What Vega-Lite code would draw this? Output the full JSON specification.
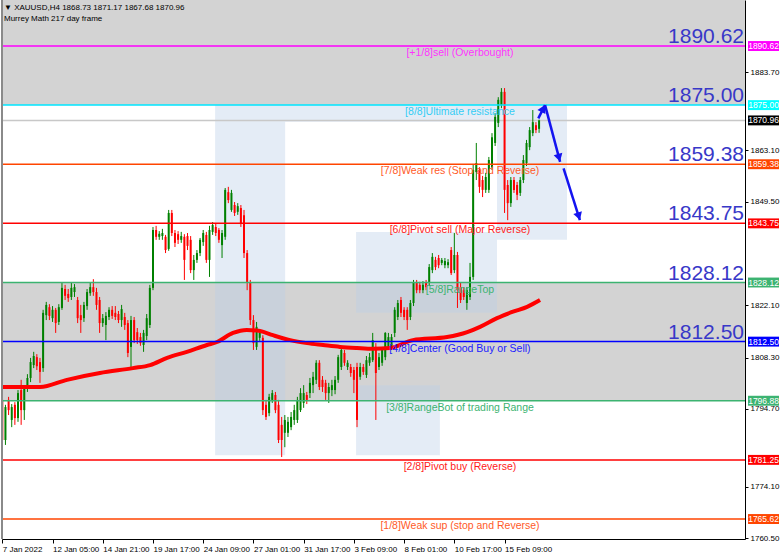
{
"$schema": "https://vega.github.io/schema/vega-lite/v6.json",
"width": 743, "height": 539,
"autosize": {"type": "none"},
"padding": {"left": 2, "top": 0, "right": 37, "bottom": 18},
"background": "white",
"config": {"view": {"stroke": null}, "font": "Liberation Sans"},
"datasets": {
"one": [{}],
"zones": [{"top": 1902.78, "bot": 1875.0}, {"top": 1828.12, "bot": 1796.88}],
"mark": [
{"x1": 67.8, "x2": 90.1, "y1": 1875.0, "y2": 1782.5},
{"x1": 90.1, "x2": 157.6, "y1": 1875.0, "y2": 1870.6},
{"x1": 157.6, "x2": 179.9, "y1": 1875.0, "y2": 1839.4},
{"x1": 112.7, "x2": 157.6, "y1": 1841.5, "y2": 1820.1},
{"x1": 112.7, "x2": 139.4, "y1": 1801.0, "y2": 1782.5}
],
"levels": [
{"lv": "+1/8", "v": 1890.62, "label": "[+1/8]sell (Overbought)"},
{"lv": "8/8", "v": 1875.00, "label": "[8/8]Ultimate resistance"},
{"lv": "7/8", "v": 1859.38, "label": "[7/8]Weak res (Stop and Reverse)"},
{"lv": "6/8", "v": 1843.75, "label": "[6/8]Pivot sell (Major Reverse)"},
{"lv": "5/8", "v": 1828.12, "label": "[5/8]RangeTop"},
{"lv": "4/8", "v": 1812.50, "label": "[4/8]Center (Good Buy or Sell)"},
{"lv": "3/8", "v": 1796.88, "label": "[3/8]RangeBot of trading Range"},
{"lv": "2/8", "v": 1781.25, "label": "[2/8]Pivot buy (Reverse)"},
{"lv": "1/8", "v": 1765.62, "label": "[1/8]Weak sup (stop and Reverse)"}
],
"tags": [
{"lv": "+1/8", "v": 1890.62}, {"lv": "8/8", "v": 1875.00}, {"lv": "now", "v": 1870.96},
{"lv": "7/8", "v": 1859.38}, {"lv": "6/8", "v": 1843.75}, {"lv": "5/8", "v": 1828.12},
{"lv": "4/8", "v": 1812.50}, {"lv": "3/8", "v": 1796.88}, {"lv": "2/8", "v": 1781.25},
{"lv": "1/8", "v": 1765.62}
],
"ma": [
{"i":0.2,"ma":1800.5},{"i":12,"ma":1800.5},{"i":20.6,"ma":1802.4},{"i":31.1,"ma":1804.2},{"i":41.6,"ma":1805.5},{"i":47.1,"ma":1806.3},{"i":52.5,"ma":1808.2},{"i":58.8,"ma":1809.8},{"i":65.2,"ma":1811.6},{"i":68.4,"ma":1812.4},{"i":73.5,"ma":1814.8},{"i":77.9,"ma":1815.6},{"i":82.1,"ma":1815.3},{"i":86.2,"ma":1814.2},{"i":91.7,"ma":1812.9},{"i":97.1,"ma":1812.1},{"i":102.2,"ma":1811.6},{"i":107.6,"ma":1811.1},{"i":113,"ma":1810.8},{"i":118.1,"ma":1810.6},{"i":123.5,"ma":1810.8},{"i":130.8,"ma":1812.9},{"i":141.7,"ma":1813.7},{"i":148.1,"ma":1815.0},{"i":152.2,"ma":1816.4},{"i":157.6,"ma":1818.7},{"i":162.7,"ma":1820.4},{"i":167.2,"ma":1821.7},{"i":171.3,"ma":1823.5}
],
"arrows": [
{"seg":1,"i":170.75,"p":1871.5},{"seg":1,"i":172.9,"p":1875.0},
{"seg":2,"i":172.9,"p":1875.0},{"seg":2,"i":177.7,"p":1860.0},
{"seg":3,"i":178.8,"p":1858.3},{"seg":3,"i":184.0,"p":1844.6}
],
"candles": [
{"i":0,"o":1797.1,"h":1797.6,"l":1781.7,"c":1786.5},
{"i":1,"o":1786.5,"h":1795.8,"l":1785.2,"c":1795.2},
{"i":2,"o":1797.1,"h":1797.9,"l":1793.1,"c":1794.4},
{"i":3,"o":1791.8,"h":1796.0,"l":1789.9,"c":1795.2},
{"i":4,"o":1795.8,"h":1796.5,"l":1790.5,"c":1792.3},
{"i":5,"o":1792.3,"h":1799.7,"l":1791.3,"c":1798.9},
{"i":6,"o":1799.7,"h":1802.4,"l":1790.5,"c":1794.4},
{"i":7,"o":1794.4,"h":1801.0,"l":1791.8,"c":1800.2},
{"i":8,"o":1800.2,"h":1803.9,"l":1799.2,"c":1802.9},
{"i":9,"o":1802.9,"h":1808.2,"l":1801.8,"c":1807.1},
{"i":10,"o":1806.3,"h":1809.8,"l":1805.5,"c":1808.7},
{"i":11,"o":1808.4,"h":1809.2,"l":1805.0,"c":1806.0},
{"i":12,"o":1807.1,"h":1808.2,"l":1801.6,"c":1804.5},
{"i":13,"o":1805.5,"h":1820.9,"l":1804.5,"c":1820.1},
{"i":14,"o":1819.5,"h":1823.0,"l":1818.2,"c":1822.2},
{"i":15,"o":1821.6,"h":1822.4,"l":1818.2,"c":1819.3},
{"i":16,"o":1818.7,"h":1821.9,"l":1817.7,"c":1820.9},
{"i":17,"o":1820.9,"h":1821.4,"l":1814.8,"c":1817.4},
{"i":18,"o":1817.7,"h":1822.4,"l":1816.9,"c":1821.6},
{"i":19,"o":1821.4,"h":1828.0,"l":1820.9,"c":1826.7},
{"i":20,"o":1826.4,"h":1827.5,"l":1823.5,"c":1824.6},
{"i":21,"o":1825.1,"h":1826.4,"l":1823.0,"c":1824.0},
{"i":22,"o":1824.3,"h":1828.0,"l":1823.5,"c":1826.7},
{"i":23,"o":1825.6,"h":1827.7,"l":1824.3,"c":1826.9},
{"i":24,"o":1823.5,"h":1824.3,"l":1817.4,"c":1818.7},
{"i":25,"o":1819.5,"h":1822.2,"l":1814.8,"c":1818.2},
{"i":26,"o":1818.7,"h":1823.0,"l":1817.7,"c":1822.2},
{"i":27,"o":1821.9,"h":1826.4,"l":1820.9,"c":1825.6},
{"i":28,"o":1825.3,"h":1828.0,"l":1824.6,"c":1826.9},
{"i":29,"o":1826.9,"h":1829.0,"l":1824.6,"c":1825.6},
{"i":30,"o":1825.6,"h":1826.7,"l":1820.9,"c":1822.2},
{"i":31,"o":1823.5,"h":1824.3,"l":1814.8,"c":1817.4},
{"i":32,"o":1817.4,"h":1819.8,"l":1816.4,"c":1818.7},
{"i":33,"o":1816.9,"h":1820.3,"l":1812.9,"c":1819.3},
{"i":34,"o":1819.0,"h":1821.6,"l":1818.2,"c":1820.9},
{"i":35,"o":1820.9,"h":1821.9,"l":1818.5,"c":1819.3},
{"i":36,"o":1820.1,"h":1821.9,"l":1818.2,"c":1819.0},
{"i":37,"o":1819.8,"h":1820.6,"l":1817.4,"c":1818.2},
{"i":38,"o":1818.2,"h":1822.2,"l":1816.4,"c":1821.1},
{"i":39,"o":1819.0,"h":1820.1,"l":1815.6,"c":1816.9},
{"i":40,"o":1817.4,"h":1818.2,"l":1808.4,"c":1809.5},
{"i":41,"o":1811.1,"h":1819.3,"l":1805.8,"c":1818.2},
{"i":42,"o":1818.2,"h":1819.0,"l":1812.1,"c":1812.9},
{"i":43,"o":1815.0,"h":1816.1,"l":1811.9,"c":1812.9},
{"i":44,"o":1813.7,"h":1814.8,"l":1811.4,"c":1812.1},
{"i":45,"o":1811.6,"h":1815.6,"l":1809.8,"c":1814.8},
{"i":46,"o":1814.0,"h":1819.8,"l":1812.9,"c":1818.7},
{"i":47,"o":1816.9,"h":1827.5,"l":1816.1,"c":1826.7},
{"i":48,"o":1826.7,"h":1842.8,"l":1826.1,"c":1842.0},
{"i":49,"o":1842.0,"h":1843.1,"l":1839.4,"c":1840.2},
{"i":50,"o":1840.2,"h":1841.7,"l":1839.4,"c":1841.0},
{"i":51,"o":1840.4,"h":1842.3,"l":1839.4,"c":1841.2},
{"i":52,"o":1840.2,"h":1840.7,"l":1835.9,"c":1836.7},
{"i":53,"o":1837.0,"h":1847.3,"l":1836.5,"c":1846.5},
{"i":54,"o":1846.5,"h":1847.3,"l":1840.4,"c":1841.2},
{"i":55,"o":1841.2,"h":1842.0,"l":1837.5,"c":1838.6},
{"i":56,"o":1840.9,"h":1841.7,"l":1838.3,"c":1839.4},
{"i":57,"o":1839.4,"h":1841.5,"l":1838.6,"c":1840.4},
{"i":58,"o":1840.2,"h":1840.9,"l":1828.8,"c":1834.1},
{"i":59,"o":1840.4,"h":1841.2,"l":1836.7,"c":1837.8},
{"i":60,"o":1839.4,"h":1840.4,"l":1830.6,"c":1831.4},
{"i":61,"o":1831.4,"h":1835.4,"l":1828.8,"c":1834.1},
{"i":62,"o":1834.1,"h":1836.7,"l":1833.3,"c":1835.9},
{"i":63,"o":1835.9,"h":1839.9,"l":1835.1,"c":1839.4},
{"i":64,"o":1838.8,"h":1842.0,"l":1837.8,"c":1841.2},
{"i":65,"o":1840.7,"h":1841.5,"l":1833.3,"c":1834.1},
{"i":66,"o":1834.1,"h":1843.1,"l":1829.6,"c":1842.0},
{"i":67,"o":1841.5,"h":1844.1,"l":1840.7,"c":1843.3},
{"i":68,"o":1842.8,"h":1843.6,"l":1840.4,"c":1841.2},
{"i":69,"o":1842.0,"h":1842.5,"l":1838.6,"c":1839.4},
{"i":70,"o":1838.0,"h":1842.0,"l":1834.6,"c":1841.2},
{"i":71,"o":1840.2,"h":1853.1,"l":1839.4,"c":1852.6},
{"i":72,"o":1852.0,"h":1853.4,"l":1849.1,"c":1849.9},
{"i":73,"o":1847.3,"h":1852.6,"l":1846.8,"c":1851.8},
{"i":74,"o":1848.6,"h":1849.4,"l":1845.7,"c":1846.5},
{"i":75,"o":1846.8,"h":1849.1,"l":1846.0,"c":1848.3},
{"i":76,"o":1847.8,"h":1848.6,"l":1842.8,"c":1843.8},
{"i":77,"o":1845.9,"h":1847.3,"l":1834.6,"c":1835.9},
{"i":78,"o":1835.9,"h":1836.7,"l":1826.1,"c":1828.0},
{"i":79,"o":1828.0,"h":1828.8,"l":1816.9,"c":1818.2},
{"i":80,"o":1818.2,"h":1819.5,"l":1810.3,"c":1812.1},
{"i":81,"o":1811.1,"h":1817.7,"l":1810.3,"c":1816.4},
{"i":82,"o":1813.5,"h":1815.6,"l":1812.7,"c":1814.8},
{"i":83,"o":1813.5,"h":1814.2,"l":1793.1,"c":1794.4},
{"i":84,"o":1795.8,"h":1797.1,"l":1791.8,"c":1792.6},
{"i":85,"o":1793.6,"h":1798.7,"l":1792.8,"c":1797.9},
{"i":86,"o":1797.1,"h":1799.7,"l":1796.3,"c":1798.9},
{"i":87,"o":1798.4,"h":1799.2,"l":1793.6,"c":1794.4},
{"i":88,"o":1795.8,"h":1797.1,"l":1785.7,"c":1786.5},
{"i":89,"o":1790.5,"h":1792.6,"l":1782.0,"c":1786.5},
{"i":90,"o":1788.4,"h":1793.1,"l":1784.6,"c":1791.8},
{"i":91,"o":1788.4,"h":1792.6,"l":1787.3,"c":1791.3},
{"i":92,"o":1789.9,"h":1793.9,"l":1789.1,"c":1792.6},
{"i":93,"o":1791.8,"h":1795.8,"l":1790.5,"c":1794.4},
{"i":94,"o":1791.8,"h":1797.9,"l":1791.0,"c":1797.1},
{"i":95,"o":1794.4,"h":1800.2,"l":1793.9,"c":1798.9},
{"i":96,"o":1796.3,"h":1801.0,"l":1795.0,"c":1798.9},
{"i":97,"o":1798.4,"h":1799.2,"l":1796.0,"c":1797.1},
{"i":98,"o":1798.9,"h":1802.9,"l":1797.6,"c":1801.6},
{"i":99,"o":1801.0,"h":1804.5,"l":1798.9,"c":1803.2},
{"i":100,"o":1802.4,"h":1807.6,"l":1801.3,"c":1806.9},
{"i":101,"o":1806.9,"h":1807.6,"l":1799.7,"c":1800.5},
{"i":102,"o":1802.4,"h":1803.4,"l":1799.2,"c":1800.5},
{"i":103,"o":1801.6,"h":1802.4,"l":1797.1,"c":1798.9},
{"i":104,"o":1798.9,"h":1801.6,"l":1796.3,"c":1800.5},
{"i":105,"o":1799.7,"h":1802.4,"l":1798.1,"c":1801.0},
{"i":106,"o":1799.7,"h":1803.4,"l":1798.6,"c":1802.4},
{"i":107,"o":1802.4,"h":1809.0,"l":1801.6,"c":1808.4},
{"i":108,"o":1805.8,"h":1811.1,"l":1805.0,"c":1810.3},
{"i":109,"o":1809.5,"h":1810.3,"l":1806.1,"c":1806.9},
{"i":110,"o":1805.8,"h":1807.6,"l":1805.0,"c":1806.9},
{"i":111,"o":1805.8,"h":1806.6,"l":1803.2,"c":1804.2},
{"i":112,"o":1805.0,"h":1805.8,"l":1798.9,"c":1802.4},
{"i":113,"o":1805.8,"h":1806.9,"l":1789.9,"c":1791.8},
{"i":114,"o":1803.2,"h":1806.9,"l":1802.4,"c":1805.8},
{"i":115,"o":1805.8,"h":1806.6,"l":1803.7,"c":1804.5},
{"i":116,"o":1803.7,"h":1808.7,"l":1802.9,"c":1807.6},
{"i":117,"o":1806.9,"h":1809.5,"l":1806.1,"c":1808.4},
{"i":118,"o":1807.6,"h":1814.8,"l":1807.1,"c":1812.9},
{"i":119,"o":1811.1,"h":1812.1,"l":1791.8,"c":1804.2},
{"i":120,"o":1805.8,"h":1809.5,"l":1805.0,"c":1808.4},
{"i":121,"o":1806.9,"h":1811.1,"l":1806.1,"c":1810.3},
{"i":122,"o":1808.4,"h":1815.0,"l":1807.6,"c":1814.8},
{"i":123,"o":1811.1,"h":1814.8,"l":1810.3,"c":1813.7},
{"i":124,"o":1811.1,"h":1814.5,"l":1810.3,"c":1813.7},
{"i":125,"o":1814.8,"h":1821.6,"l":1813.7,"c":1820.9},
{"i":126,"o":1819.0,"h":1823.5,"l":1818.2,"c":1822.7},
{"i":127,"o":1823.5,"h":1824.3,"l":1819.0,"c":1820.1},
{"i":128,"o":1820.9,"h":1821.6,"l":1818.2,"c":1819.0},
{"i":129,"o":1820.9,"h":1821.6,"l":1815.6,"c":1818.2},
{"i":130,"o":1819.0,"h":1823.5,"l":1818.2,"c":1822.7},
{"i":131,"o":1822.7,"h":1828.8,"l":1821.9,"c":1828.0},
{"i":132,"o":1828.0,"h":1828.8,"l":1825.3,"c":1826.1},
{"i":133,"o":1827.5,"h":1828.3,"l":1825.3,"c":1826.1},
{"i":134,"o":1826.1,"h":1828.5,"l":1825.3,"c":1827.5},
{"i":135,"o":1828.0,"h":1828.8,"l":1826.1,"c":1826.9},
{"i":136,"o":1828.0,"h":1833.0,"l":1827.2,"c":1832.2},
{"i":137,"o":1831.4,"h":1835.9,"l":1830.6,"c":1834.9},
{"i":138,"o":1834.1,"h":1834.9,"l":1831.4,"c":1832.2},
{"i":139,"o":1834.6,"h":1835.4,"l":1831.9,"c":1832.7},
{"i":140,"o":1833.3,"h":1834.6,"l":1832.7,"c":1834.1},
{"i":141,"o":1832.7,"h":1834.6,"l":1831.9,"c":1833.8},
{"i":142,"o":1832.7,"h":1834.3,"l":1831.9,"c":1833.5},
{"i":143,"o":1836.7,"h":1837.5,"l":1830.1,"c":1830.6},
{"i":144,"o":1831.4,"h":1841.2,"l":1830.6,"c":1835.4},
{"i":145,"o":1835.4,"h":1836.2,"l":1821.4,"c":1826.1},
{"i":146,"o":1826.9,"h":1828.0,"l":1822.7,"c":1823.5},
{"i":147,"o":1826.1,"h":1826.9,"l":1823.5,"c":1824.3},
{"i":148,"o":1822.7,"h":1826.9,"l":1820.9,"c":1826.1},
{"i":149,"o":1824.3,"h":1833.3,"l":1823.5,"c":1829.6},
{"i":150,"o":1829.6,"h":1859.2,"l":1828.8,"c":1857.9},
{"i":151,"o":1857.3,"h":1865.0,"l":1855.2,"c":1859.7},
{"i":152,"o":1857.9,"h":1858.6,"l":1851.8,"c":1853.4},
{"i":153,"o":1855.2,"h":1856.3,"l":1850.7,"c":1852.6},
{"i":154,"o":1852.6,"h":1857.1,"l":1851.8,"c":1856.0},
{"i":155,"o":1852.6,"h":1861.3,"l":1851.8,"c":1860.5},
{"i":156,"o":1858.6,"h":1867.6,"l":1857.9,"c":1866.5},
{"i":157,"o":1865.0,"h":1872.9,"l":1864.2,"c":1871.9},
{"i":158,"o":1870.3,"h":1877.1,"l":1869.2,"c":1876.4},
{"i":159,"o":1875.0,"h":1879.5,"l":1874.2,"c":1878.5},
{"i":160,"o":1878.5,"h":1879.5,"l":1846.5,"c":1852.6},
{"i":161,"o":1853.9,"h":1855.2,"l":1844.6,"c":1849.1},
{"i":162,"o":1849.1,"h":1856.0,"l":1848.1,"c":1855.2},
{"i":163,"o":1855.2,"h":1856.0,"l":1851.8,"c":1852.6},
{"i":164,"o":1853.9,"h":1854.7,"l":1849.9,"c":1851.3},
{"i":165,"o":1851.8,"h":1856.0,"l":1851.0,"c":1855.2},
{"i":166,"o":1855.2,"h":1861.8,"l":1854.4,"c":1860.5},
{"i":167,"o":1859.7,"h":1865.8,"l":1858.9,"c":1865.0},
{"i":168,"o":1863.9,"h":1869.2,"l":1863.1,"c":1868.4},
{"i":169,"o":1867.6,"h":1873.7,"l":1866.8,"c":1870.5},
{"i":170,"o":1869.7,"h":1870.5,"l":1867.6,"c":1868.4},
{"i":171,"o":1868.73,"h":1871.17,"l":1867.68,"c":1870.96}
]
},
"layer": [
{
"data": {"name": "zones"},
"mark": {"type": "rect", "color": "#d3d3d3"},
"encoding": {
"x": {"datum": -0.1, "type": "quantitative",
"scale": {"domain": [-0.1, 236.6], "nice": false, "zero": false, "padding": 0},
"axis": {"values": [0,16,32,48,64,80,96,112,128,144,160],
"labelExpr": "['7 Jan 2022','12 Jan 05:00','14 Jan 21:00','19 Jan 17:00','24 Jan 09:00','27 Jan 01:00','31 Jan 17:00','3 Feb 09:00','8 Feb 01:00','10 Feb 17:00','15 Feb 09:00'][round(datum.value/16)]",
"labelAlign": "left", "labelFlush": false, "labelOverlap": false, "labelBound": false,
"tickSize": 4, "tickColor": "#000", "domainColor": "#000", "domainWidth": 1,
"labelFontSize": 8, "labelColor": "#000", "labelPadding": 2, "labelFont": "Liberation Sans",
"grid": false, "title": null, "orient": "bottom"}},
"x2": {"datum": 236.6},
"y": {"field": "top", "type": "quantitative",
"scale": {"domain": [1760.34, 1902.78], "nice": false, "zero": false, "padding": 0},
"axis": {"orient": "right",
"values": [1897.3,1883.7,1876.7,1863.1,1856.3,1849.5,1835.7,1822.1,1815.1,1808.3,1801.5,1794.7,1787.7,1774.1,1767.3,1760.5],
"format": ".2f", "labelFontSize": 8, "labelColor": "#000", "labelFont": "Liberation Sans",
"tickSize": 3, "tickColor": "#000", "domainColor": "#000", "labelPadding": 2,
"labelOverlap": false, "labelBound": false, "labelFlush": false, "grid": false, "title": null}},
"y2": {"field": "bot"}
}
},
{
"data": {"name": "mark"},
"mark": {"type": "rect", "color": "#bcd0e8", "opacity": 0.4},
"encoding": {
"x": {"field": "x1", "type": "quantitative"},
"x2": {"field": "x2"},
"y": {"field": "y1", "type": "quantitative"},
"y2": {"field": "y2"}
}
},
{
"data": {"name": "one"},
"mark": {"type": "rule", "color": "#c8c8c8", "strokeWidth": 1.5},
"encoding": {"y": {"datum": 1870.96, "type": "quantitative"}}
},
{
"data": {"name": "candles"},
"mark": {"type": "rule", "strokeWidth": 1},
"encoding": {
"x": {"field": "i", "type": "quantitative"},
"y": {"field": "l", "type": "quantitative"},
"y2": {"field": "h"},
"color": {"condition": {"test": "datum.c >= datum.o", "value": "#008000"}, "value": "#ff0000"}
}
},
{
"data": {"name": "candles"},
"mark": {"type": "bar", "size": 2},
"encoding": {
"x": {"field": "i", "type": "quantitative"},
"y": {"field": "o", "type": "quantitative"},
"y2": {"field": "c"},
"color": {"condition": {"test": "datum.c >= datum.o", "value": "#008000"}, "value": "#ff0000"}
}
},
{
"data": {"name": "ma"},
"mark": {"type": "line", "color": "#ff0000", "strokeWidth": 4, "interpolate": "monotone"},
"encoding": {
"x": {"field": "i", "type": "quantitative"},
"y": {"field": "ma", "type": "quantitative"}
}
},
{
"data": {"name": "levels"},
"mark": {"type": "rule", "strokeWidth": 1.5},
"encoding": {
"y": {"field": "v", "type": "quantitative"},
"stroke": {"field": "lv", "type": "nominal", "legend": null,
"scale": {"domain": ["+1/8","8/8","7/8","6/8","5/8","4/8","3/8","2/8","1/8"],
"range": ["#ff00ff","#00e6ff","#ff4500","#ff0000","#3cb371","#0000ff","#3cb371","#ff0000","#ff4500"]}}
}
},
{
"data": {"name": "levels"},
"mark": {"type": "text", "align": "center", "baseline": "top", "dy": 2, "fontSize": 10.5, "font": "Liberation Sans"},
"encoding": {
"x": {"datum": 145.8, "type": "quantitative"},
"y": {"field": "v", "type": "quantitative"},
"text": {"field": "label"},
"fill": {"field": "lv", "type": "nominal", "legend": null,
"scale": {"domain": ["+1/8","8/8","7/8","6/8","5/8","4/8","3/8","2/8","1/8"],
"range": ["#ff33ff","#33ccf5","#ff5a28","#ff1a1a","#3cb371","#2020ff","#3cb371","#ff1a1a","#ff5a28"]}}
}
},
{
"data": {"name": "levels"},
"transform": [{"filter": "datum.v > 1810"}],
"mark": {"type": "text", "align": "right", "baseline": "alphabetic", "dx": -1, "dy": -3, "fontSize": 21, "font": "Liberation Sans", "color": "#3838c8"},
"encoding": {
"x": {"datum": 236.6, "type": "quantitative"},
"y": {"field": "v", "type": "quantitative"},
"text": {"field": "v", "type": "quantitative", "format": ".2f"}
}
},
{
"data": {"name": "arrows"},
"mark": {"type": "line", "color": "#1414f0", "strokeWidth": 2.5},
"encoding": {
"x": {"field": "i", "type": "quantitative"},
"y": {"field": "p", "type": "quantitative"},
"detail": {"field": "seg"}
}
},
{
"data": {"name": "one"},
"mark": {"type": "point", "shape": "triangle-up", "filled": true, "color": "#1414f0", "size": 80, "opacity": 1, "angle": 27},
"encoding": {"x": {"datum": 172.3, "type": "quantitative"}, "y": {"datum": 1874.1, "type": "quantitative"}}
},
{
"data": {"name": "one"},
"mark": {"type": "point", "shape": "triangle-up", "filled": true, "color": "#1414f0", "size": 80, "opacity": 1, "angle": 165},
"encoding": {"x": {"datum": 177.35, "type": "quantitative"}, "y": {"datum": 1861.1, "type": "quantitative"}}
},
{
"data": {"name": "one"},
"mark": {"type": "point", "shape": "triangle-up", "filled": true, "color": "#1414f0", "size": 80, "opacity": 1, "angle": 162},
"encoding": {"x": {"datum": 183.65, "type": "quantitative"}, "y": {"datum": 1845.6, "type": "quantitative"}}
},
{
"data": {"name": "tags"},
"mark": {"type": "point", "shape": "M-1,-0.32L1,-0.32L1,0.32L-1,0.32Z", "filled": true, "size": 961, "opacity": 1},
"encoding": {
"x": {"datum": 242.5, "type": "quantitative"},
"y": {"field": "v", "type": "quantitative"},
"color": {"field": "lv", "type": "nominal", "legend": null,
"scale": {"domain": ["+1/8","8/8","now","7/8","6/8","5/8","4/8","3/8","2/8","1/8"],
"range": ["#ff00ff","#00ffff","#000000","#ff4500","#ff0000","#3cb371","#0000ff","#3cb371","#ff0000","#ff4500"]}}
}
},
{
"data": {"name": "tags"},
"mark": {"type": "text", "align": "center", "baseline": "middle", "fontSize": 8.5, "font": "Liberation Sans", "color": "#ffffff"},
"encoding": {
"x": {"datum": 242.5, "type": "quantitative"},
"y": {"field": "v", "type": "quantitative"},
"text": {"field": "v", "type": "quantitative", "format": ".2f"}
}
},
{
"data": {"name": "one"},
"mark": {"type": "text", "text": "▼ XAUUSD,H4  1868.73 1871.17 1867.68 1870.96", "align": "left", "baseline": "middle", "dx": 2, "dy": 8, "fontSize": 8, "font": "Liberation Sans", "color": "#000"},
"encoding": {"x": {"datum": -0.1, "type": "quantitative"}, "y": {"datum": 1902.78, "type": "quantitative"}}
},
{
"data": {"name": "one"},
"mark": {"type": "text", "text": "Murrey Math 217 day frame", "align": "left", "baseline": "middle", "dx": 2, "dy": 19, "fontSize": 8, "font": "Liberation Sans", "color": "#000"},
"encoding": {"x": {"datum": -0.1, "type": "quantitative"}, "y": {"datum": 1902.78, "type": "quantitative"}}
},
{
"data": {"name": "one"},
"mark": {"type": "rule", "color": "#8a8a8a", "strokeWidth": 2},
"encoding": {"x": {"datum": -0.1, "type": "quantitative"}}
}
]
}
